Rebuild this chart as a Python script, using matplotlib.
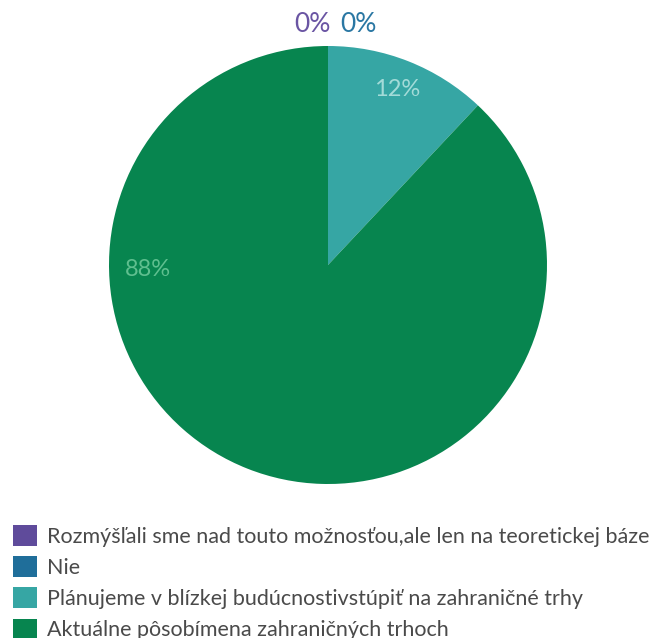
import numpy as np
import matplotlib.pyplot as plt
from matplotlib.patches import Patch

labels = [
    "Rozmýšľali sme nad touto možnosťou,ale len na teoretickej báze",
    "Nie",
    "Plánujeme v blízkej budúcnostivstúpiť na zahraničné trhy",
    "Aktuálne pôsobímena zahraničných trhoch",
]
values = [0, 0, 12, 88]
colors = ["#5f4b9b", "#1f6e9a", "#36a6a4", "#07854f"]
text_colors = ["#6a55a3", "#2a77a3", "#a3dbd8", "#5fbf8f"]

plt.rcParams["font.family"] = ["Lato", "DejaVu Sans"]

fig = plt.figure(figsize=(6.57, 6.38), dpi=100)
cx, cy, r = 328, 265, 219
ax = fig.add_axes([(cx - r) / 657, (638 - cy - r) / 638, 2 * r / 657, 2 * r / 638])

wedges, _ = ax.pie(values, colors=colors, startangle=90, counterclock=False,
                   radius=1, wedgeprops=dict(linewidth=0))
ax.set_xlim(-1, 1)
ax.set_ylim(-1, 1)
ax.axis("off")

# label placement: zero slices sit above the top, nudged apart
for i, (w, v) in enumerate(zip(wedges, values)):
    mid = np.deg2rad((w.theta1 + w.theta2) / 2)
    if v == 0:
        x, y, fs = (-0.07 if i == 0 else 0.14), 1.10, 19
    elif v < 50:
        x, y, fs = 0.86 * np.cos(mid), 0.86 * np.sin(mid), 17
    else:
        x, y, fs = -0.82, -0.02, 17
    ax.text(x, y, f"{v}%", color=text_colors[i], fontsize=fs,
            ha="center", va="center")

handles = [Patch(facecolor=c, edgecolor="none") for c in colors]
fig.legend(handles, labels, loc="upper left", bbox_to_anchor=(0.0, 0.197),
           frameon=False, handlelength=1.1, handleheight=1.1,
           handletextpad=0.5, labelspacing=0.44, borderaxespad=0.2,
           labelcolor="#4a4a4a", prop=dict(size=15.5))

fig.savefig("out.png", dpi=100)
